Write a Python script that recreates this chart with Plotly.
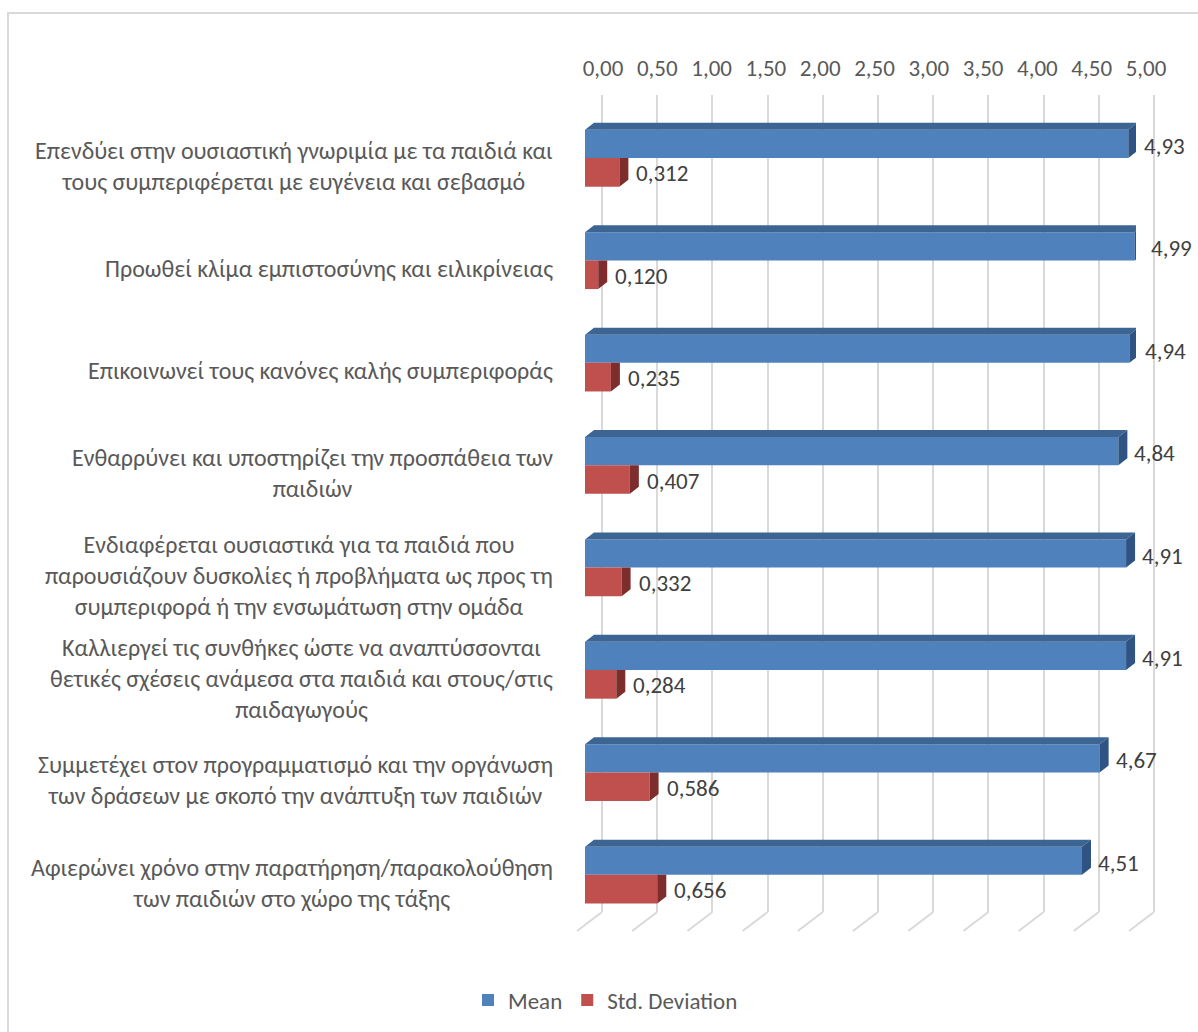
import plotly.graph_objects as go

# ---------------- data ----------------
categories = [
    "Επενδύει στην ουσιαστική γνωριμία με τα παιδιά και<br>τους συμπεριφέρεται με ευγένεια και σεβασμό",
    "Προωθεί κλίμα εμπιστοσύνης και ειλικρίνειας",
    "Επικοινωνεί τους κανόνες καλής συμπεριφοράς",
    "Ενθαρρύνει και υποστηρίζει την προσπάθεια των<br>παιδιών",
    "Ενδιαφέρεται ουσιαστικά για τα παιδιά που<br>παρουσιάζουν δυσκολίες ή προβλήματα ως προς τη<br>συμπεριφορά ή την ενσωμάτωση στην ομάδα",
    "Καλλιεργεί τις συνθήκες ώστε να αναπτύσσονται<br>θετικές σχέσεις ανάμεσα στα παιδιά και στους/στις<br>παιδαγωγούς",
    "Συμμετέχει στον προγραμματισμό και την οργάνωση<br>των δράσεων με σκοπό την ανάπτυξη των παιδιών",
    "Αφιερώνει χρόνο στην παρατήρηση/παρακολούθηση<br>των παιδιών στο χώρο της τάξης",
]
mean_values = [4.93, 4.99, 4.94, 4.84, 4.91, 4.91, 4.67, 4.51]
std_values = [0.312, 0.120, 0.235, 0.407, 0.332, 0.284, 0.586, 0.656]
tick_values = [0.0, 0.5, 1.0, 1.5, 2.0, 2.5, 3.0, 3.5, 4.0, 4.5, 5.0]
series_names = ["Mean", "Std. Deviation"]

# ---------------- styling / geometry ----------------
W, H = 1198, 1032
FONT = "Calibri, Carlito, 'Open Sans', 'Noto Sans', sans-serif"
FS = 23
FS_CAT = 24
TXT = "#595959"
BLUE, BLUE_TOP, BLUE_SIDE = "#4F81BD", "#3C6593", "#2F5483"
RED, RED_SIDE = "#C0504D", "#7D2D2B"
GRID = "#D9D9D9"

def px_x(p):
    return p / W

def px_y(p):
    return 1 - p / H

X_MAX = 5.0
# bar (front) plane
BX0, BX1 = 585, 1136
BY_TOP, BY_BOT = 106.8, 926.0
# back wall (grid) plane
GX0, GX1 = 602, 1154
GY_TOP, GY_BOT = 95, 912
G_PAD_L, G_PAD_R = 0.25, 0.05
# tick label band (top)
LX0, LX1 = 603, 1146

n = len(categories)
idx = list(range(n))
ppu_x = (BX1 - BX0) / X_MAX
ppu_y = (BY_BOT - BY_TOP) / n
gppu = (GX1 - GX0) / X_MAX
DX = 9 / ppu_x          # bar depth in data units (x)
DY = 7 / ppu_y          # bar depth in data units (y)
W_MEAN, W_STD = 0.275, 0.28

fig = go.Figure()

# back-wall grid subplot (xaxis / yaxis)
fig.add_trace(go.Scatter(x=[0, X_MAX], y=[0, 1], mode="markers",
                         marker=dict(opacity=0), hoverinfo="skip",
                         showlegend=False, xaxis="x", yaxis="y"))
# helper for the value-axis labels (xaxis3)
fig.add_trace(go.Scatter(x=[0, X_MAX], y=[0, 1], mode="markers",
                         marker=dict(opacity=0), hoverinfo="skip",
                         showlegend=False, xaxis="x3", yaxis="y"))

# bars (front plane, xaxis2 / yaxis2)
fig.add_trace(go.Bar(name=series_names[0], x=mean_values, y=idx, orientation="h",
                     offset=-W_MEAN, width=W_MEAN, marker=dict(color=BLUE, line=dict(width=0)),
                     xaxis="x2", yaxis="y2", hoverinfo="x"))
fig.add_trace(go.Bar(name=series_names[1], x=std_values, y=idx, orientation="h",
                     offset=0, width=W_STD, marker=dict(color=RED, line=dict(width=0)),
                     xaxis="x2", yaxis="y2", hoverinfo="x"))

shapes = []
annotations = []

# chart border
shapes.append(dict(type="rect", xref="paper", yref="paper",
                   x0=px_x(8), x1=px_x(W + 10), y0=px_y(H + 10), y1=px_y(13),
                   line=dict(color=GRID, width=2), fillcolor="rgba(0,0,0,0)", layer="below"))

# floor diagonals
fdx = 25 / gppu
for t in tick_values:
    shapes.append(dict(type="line", xref="x", yref="paper",
                       x0=t, x1=t - fdx, y0=px_y(GY_BOT), y1=px_y(931),
                       line=dict(color=GRID, width=2)))

def poly(pts):
    return "M " + " L ".join(f"{x},{y}" for x, y in pts) + " Z"

for i, (m, s) in enumerate(zip(mean_values, std_values)):
    t = i - W_MEAN
    b = i
    # blue top face
    shapes.append(dict(type="path", xref="x2", yref="y2", layer="above",
                       path=poly([(0, t), (m, t), (m + DX, t - DY), (DX, t - DY)]),
                       fillcolor=BLUE_TOP, line=dict(width=0)))
    # blue side face
    shapes.append(dict(type="path", xref="x2", yref="y2", layer="above",
                       path=poly([(m, t), (m + DX, t - DY), (m + DX, b - DY), (m, b)]),
                       fillcolor=BLUE_SIDE, line=dict(width=0)))
    # red side face (upper part hidden behind blue bar)
    rb = i + W_STD
    shapes.append(dict(type="path", xref="x2", yref="y2", layer="above",
                       path=poly([(s, i), (s + DX, i), (s + DX, rb - DY), (s, rb)]),
                       fillcolor=RED_SIDE, line=dict(width=0)))
    # value labels
    annotations.append(dict(xref="x2", yref="y2", x=m, y=i - W_MEAN / 2, xanchor="left",
                            yanchor="middle", xshift=14, yshift=-2, showarrow=False,
                            text=f"{m:.2f}".replace(".", ","),
                            font=dict(family=FONT, size=FS, color="#404040")))
    annotations.append(dict(xref="x2", yref="y2", x=s, y=i + W_STD / 2, xanchor="left",
                            yanchor="middle", xshift=15, yshift=-1, showarrow=False,
                            text=f"{s:.3f}".replace(".", ","),
                            font=dict(family=FONT, size=FS, color="#404040")))
    # category label
    annotations.append(dict(xref="paper", yref="y2", x=px_x(555), y=i, xanchor="right",
                            yanchor="middle", yshift=-8, align="center", showarrow=False,
                            text=categories[i],
                            font=dict(family=FONT, size=FS_CAT, color=TXT)))

fig.update_layout(
    template="none",
    width=W, height=H,
    margin=dict(l=0, r=0, t=0, b=0, pad=0, autoexpand=False),
    paper_bgcolor="white", plot_bgcolor="rgba(0,0,0,0)",
    separators=",.",
    barmode="overlay",
    font=dict(family=FONT, size=FS, color=TXT),
    shapes=shapes, annotations=annotations,
    legend=dict(orientation="h", x=px_x(468), xanchor="left", y=px_y(1000), yanchor="middle",
                font=dict(family=FONT, size=FS, color=TXT), traceorder="normal",
                bgcolor="rgba(0,0,0,0)", itemwidth=30),
    xaxis=dict(domain=[px_x(GX0 - G_PAD_L * gppu), px_x(GX1 + G_PAD_R * gppu)],
               range=[-G_PAD_L, X_MAX + G_PAD_R],
               tickmode="array", tickvals=tick_values, showticklabels=False,
               showgrid=True, gridcolor=GRID, gridwidth=2, zeroline=False,
               showline=False, ticks="", automargin=False, fixedrange=True),
    xaxis3=dict(domain=[px_x(LX0), px_x(LX1)], range=[0, X_MAX], side="top",
                anchor="free", position=px_y(GY_TOP), overlaying=None,
                tickmode="array", tickvals=tick_values, tickformat=".2f",
                showgrid=False, zeroline=False, showline=False, ticks="",
                ticklabelstandoff=14, automargin=False,
                tickfont=dict(family=FONT, size=FS, color=TXT), fixedrange=True),
    yaxis=dict(domain=[px_y(GY_BOT), px_y(GY_TOP)], range=[0, 1], visible=False,
               showgrid=False, zeroline=False, automargin=False),
    xaxis2=dict(domain=[px_x(BX0), px_x(BX1)], range=[0, X_MAX], anchor="y2",
                visible=False, showgrid=False, zeroline=False, automargin=False),
    yaxis2=dict(domain=[px_y(BY_BOT), px_y(BY_TOP)], range=[n - 0.5, -0.5], anchor="x2",
                visible=False, showgrid=False, zeroline=False, automargin=False),
)

fig.write_html("out.html")
